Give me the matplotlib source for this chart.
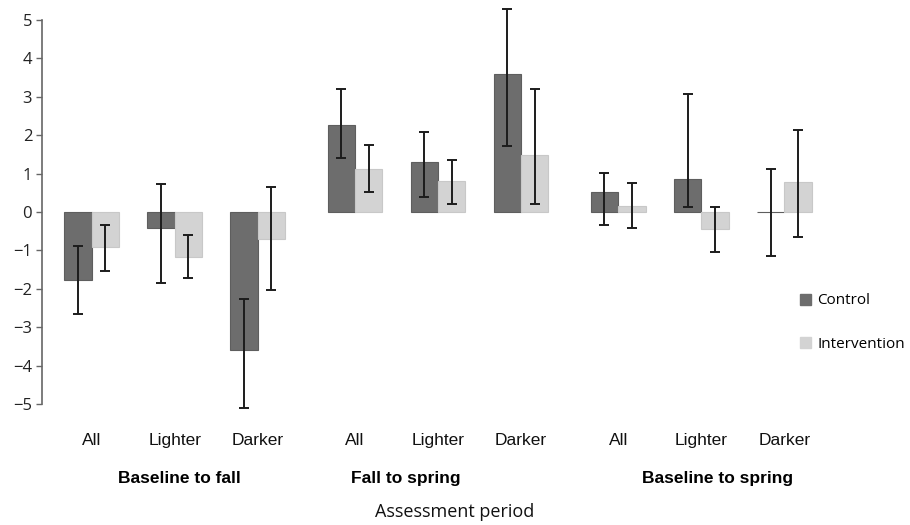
import numpy as np
import matplotlib
matplotlib.use("Agg")
import matplotlib.pyplot as plt
from matplotlib.patches import Patch

# data (change scores, with CI low/high)
groups = ["Baseline to fall", "Fall to spring", "Baseline to spring"]
subgroups = ["All", "Lighter", "Darker"]
control = [-1.77, -0.43, -3.59, 2.26, 1.29, 3.60, 0.52, 0.85, 0.0]
control_lo = [-2.66, -1.86, -5.11, 1.40, 0.40, 1.72, -0.34, 0.12, -1.15]
control_hi = [-0.88, 0.72, -2.27, 3.19, 2.08, 5.29, 1.02, 3.06, 1.11]
interv = [-0.92, -1.16, -0.71, 1.12, 0.80, 1.48, 0.15, -0.45, 0.77]
interv_lo = [-1.53, -1.73, -2.03, 0.53, 0.22, 0.21, -0.43, -1.03, -0.66]
interv_hi = [-0.34, -0.60, 0.66, 1.74, 1.35, 3.19, 0.76, 0.12, 2.13]

C_CTRL = "#6d6d6d"
C_INT = "#d3d3d3"
TICK_FONT = ["Open Sans", "DejaVu Sans"]
NARROW = ["Liberation Sans Narrow", "Liberation Sans", "DejaVu Sans"]

GROUP_GAP = 0.17
W = 0.33
x = np.array([gi * len(subgroups) + si + gi * GROUP_GAP
              for gi in range(len(groups)) for si in range(len(subgroups))])

fig = plt.figure(figsize=(9.1, 5.25), dpi=100)
ax = fig.add_axes([0.046, 0.2305, 0.866, 0.7315])

ax.bar(x - W / 2, control, W, color=C_CTRL, edgecolor="#5e5e5e", lw=0.8)
ax.bar(x + W / 2, interv, W, color=C_INT, edgecolor="#c8c8c8", lw=0.8)

for xs, lo, hi in [(x - W / 2, control_lo, control_hi), (x + W / 2, interv_lo, interv_hi)]:
    lo = np.array(lo); hi = np.array(hi)
    eb = ax.errorbar(xs, (lo + hi) / 2, yerr=(hi - lo) / 2, fmt="none",
                     ecolor="#1c1c1c", elinewidth=1.4, capsize=3.5, capthick=1.4)
    for art in eb.lines[1] + eb.lines[2]:
        art.set_clip_on(False)

ax.set_ylim(-5, 5)
ax.set_xlim(-0.60, 8.89)
ax.set_yticks(range(-5, 6))
for lab in ax.get_yticklabels():
    lab.set_family(TICK_FONT)
    lab.set_fontsize(12)
    lab.set_color("#222222")
ax.tick_params(axis="y", length=4, width=1, color="#666666", pad=3)
ax.set_xticks([])
for s in ["top", "right", "bottom"]:
    ax.spines[s].set_visible(False)
ax.spines["left"].set_color("#666666")
ax.spines["left"].set_linewidth(1.2)

# category and group labels under the axis
trans = ax.get_xaxis_transform()
for i, xi in enumerate(x):
    ax.text(xi, -0.095, subgroups[i % 3], transform=trans, ha="center", va="center",
            fontsize=12.5, family=NARROW, color="#111111")
group_x = [1.06, 3.78, 7.54]
for gx, g in zip(group_x, groups):
    ax.text(gx, -0.195, g, transform=trans, ha="center", va="center",
            fontsize=12.5, family=NARROW, fontweight="heavy", color="#000000")
fig.text(0.5, 0.024, "Assessment period", ha="center", va="center",
         fontsize=13, family=TICK_FONT, color="#111111")

handles = [Patch(facecolor=C_CTRL, edgecolor=C_CTRL), Patch(facecolor=C_INT, edgecolor=C_INT)]
fig.legend(handles, ["Control", "Intervention"], loc="upper left",
           bbox_to_anchor=(0.879, 0.441), frameon=False, prop={"family": TICK_FONT, "size": 11},
           handlelength=0.75, handleheight=0.75, handletextpad=0.4, labelspacing=1.85,
           borderpad=0, borderaxespad=0)

fig.savefig("out.png", dpi=100)
